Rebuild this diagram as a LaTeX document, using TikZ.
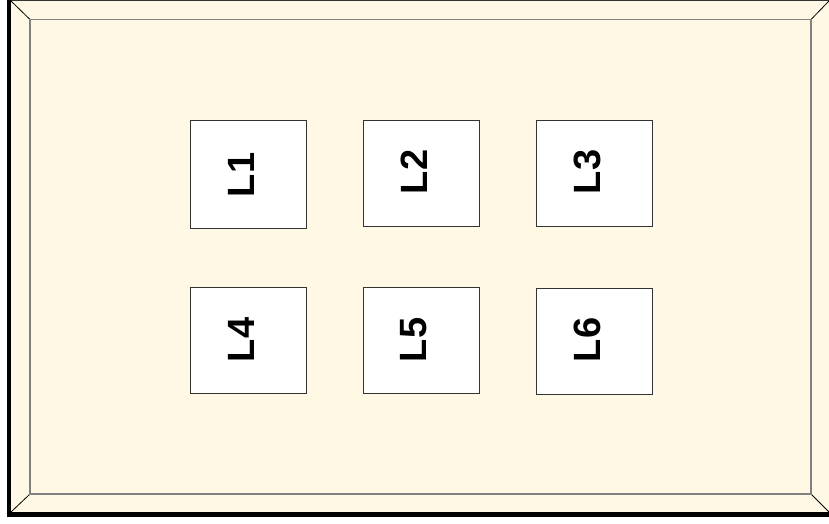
\documentclass[tikz,border=0pt]{standalone}
\usepackage{fontspec}
\setmainfont{Liberation Sans}
\definecolor{cream}{HTML}{FFF8E4}
\definecolor{bevelgray}{HTML}{808080}
\definecolor{boxline}{HTML}{333333}
\begin{document}
\begin{tikzpicture}[x=1pt,y=-1pt,
  lbox/.style={draw=boxline, line width=1pt, fill=white, minimum width=116pt, minimum height=106pt, inner sep=0pt},
  ltext/.style={rotate=90, font=\fontsize{38}{40}\selectfont\bfseries, inner sep=0pt}]
\useasboundingbox (0,0) rectangle (829,523);
% frame
\fill[cream] (8,0.5) rectangle (829,514);
\draw[line width=1pt, black!80] (9,0.5) -- (829,0.5);
\draw[line width=0.8pt, black] (11,1) -- (30,19.5);
\draw[line width=0.8pt, black] (829,1) -- (811,19.5);
\draw[line width=0.8pt, black] (829,512) -- (811,494);
\draw[line width=0.8pt, black] (11,512) -- (30,494);
\draw[line width=4pt, black] (9,0) -- (9,517);
\draw[line width=5pt, black] (7,514.5) -- (829,514.5);
\draw[line width=1.5pt, bevelgray] (30,19.5) rectangle (811,494);
% boxes
\node[lbox, minimum height=108pt] (B1) at (248,174) {};
\node[lbox] (B2) at (421,173) {};
\node[lbox] (B3) at (594.5,173) {};
\node[lbox] (B4) at (248,340.5) {};
\node[lbox] (B5) at (421,340.5) {};
\node[lbox] (B6) at (594.5,341) {};
% labels
\node[ltext] (T1) at (241,175) {L1};
\node[ltext] (T2) at (414,172) {L2};
\node[ltext] (T3) at (587.5,172) {L3};
\node[ltext] (T4) at (241,340) {L4};
\node[ltext] (T5) at (414,340) {L5};
\node[ltext] (T6) at (587.5,340) {L6};
\end{tikzpicture}
\end{document}
